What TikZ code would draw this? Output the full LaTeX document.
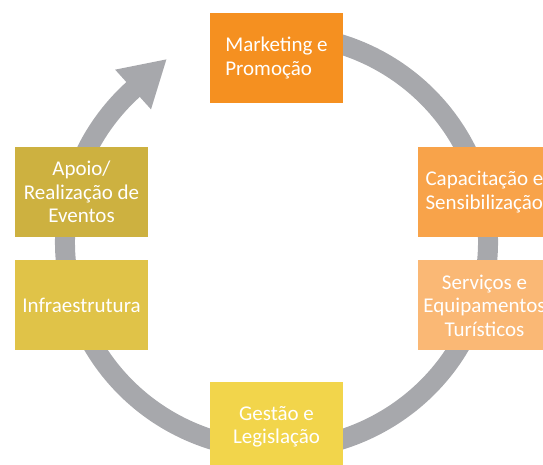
\documentclass[tikz,border=0pt]{standalone}
\usepackage{fontspec}
\setmainfont{Carlito}
\usepackage{tikz}
\usetikzlibrary{arrows.meta,positioning}
\definecolor{ringgray}{RGB}{167,168,172}
\definecolor{mkt}{RGB}{245,144,32}
\definecolor{cap}{RGB}{248,163,74}
\definecolor{serv}{RGB}{250,184,117}
\definecolor{gest}{RGB}{242,213,75}
\definecolor{infra}{RGB}{224,195,72}
\definecolor{apoio}{RGB}{205,177,64}

\begin{document}
\begin{tikzpicture}[x=1pt,y=1pt]
	\tikzstyle{every node} = [rectangle, minimum width=133pt, minimum height=90pt, inner sep=0pt, text=white, align=center, font=\fontsize{21}{23.5}\selectfont]
\useasboundingbox (0,0) rectangle (543,465);
\clip (0,0) rectangle (543,465);
\coordinate (c) at (276.5,223);
	\path[draw][ringgray, line width=20pt, -{Triangle[length=45.6pt,width=50pt]}] (c) ++(80:211.5 and 207.5) arc[start angle=80, end angle=-227.3, x radius=211.5, y radius=207.5] -- ++(42.1:45.6);
\node[fill=mkt, align=left] (1) at (276.5,407) {Marketing e\\Promoção};
\node[fill=cap, align=left] (2) at (484.5,273) {Capacitação e\\Sensibilização};
\node[fill=serv] (3) at (484.5,159.5) {Serviços e\\Equipamentos\\Turísticos};
\node[fill=gest] (4) at (276.5,38) {Gestão e\\Legislação};
\node[fill=infra] (5) at (81.5,159.5) {Infraestrutura};
\node[fill=apoio] (6) at (81.5,273) {Apoio/\\Realização de\\Eventos};
\end{tikzpicture}
\end{document}
